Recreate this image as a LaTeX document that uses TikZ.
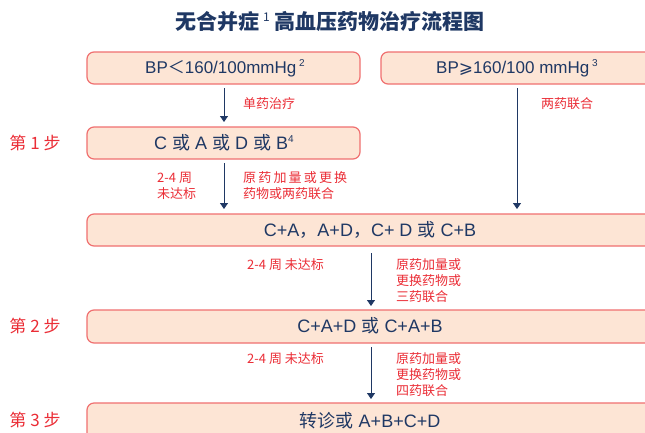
\documentclass[tikz,border=0pt]{standalone}
\usepackage{fontspec}
\setmainfont{Liberation Sans}
\newfontfamily\cjk{Noto Sans CJK SC}
\newfontfamily\djv{DejaVu Sans}
\usetikzlibrary{arrows.meta}
\definecolor{navy}{HTML}{1F3864}
\definecolor{boxfill}{HTML}{FDE5D5}
\definecolor{boxline}{HTML}{F07070}
\definecolor{lblred}{HTML}{EB2D36}
\newcommand{\supn}[1]{\raisebox{0.75ex}{\fontsize{10}{10}\selectfont #1}}
\tikzset{
  box/.style={draw=boxline, line width=1.2pt, fill=boxfill, rounded corners=7pt},
  boxtext/.style={text=navy, font=\fontsize{18}{20}\selectfont, inner sep=0pt},
  lbl/.style={text=lblred, font=\cjk\fontsize{13}{16}\selectfont, inner sep=0pt, align=left},
  steplbl/.style={text=lblred, font=\cjk\fontsize{17}{18}\selectfont, inner sep=0pt},
  arr/.style={draw=navy, line width=0.9pt, -{Triangle[length=6pt,width=8pt]}},
}
\begin{document}
\begin{tikzpicture}[x=1pt,y=-1pt]
\path[use as bounding box, clip] (0,0) rectangle (645,432);
\fill[white] (0,0) rectangle (645,432);
% title
\node[text=navy, font=\cjk\bfseries\fontsize{21}{24}\selectfont, inner sep=0pt] (title) at (330,22) {无合并症\hspace{4pt}{\fontsize{12}{12}\selectfont\raisebox{1.3ex}{\mdseries 1}}\hspace{5pt}高血压药物治疗流程图};
% boxes
\draw[box] (87,52) rectangle (360,84);
\node[boxtext, font=\fontsize{17}{20}\selectfont] (b1) at (225,68) {BP{\cjk ＜}160/100mmHg\,\supn{2}};
\coordinate (b1s) at (224,88);
\draw[box] (381,52) rectangle (680,84);
\node[boxtext, font=\fontsize{17}{20}\selectfont] (b2) at (517,68) {BP{\djv ⩾}160/100 mmHg\,\supn{3}};
\coordinate (b2s) at (517,88);

\draw[box] (87,127) rectangle (360,159);
\node[boxtext] (s1) at (224,143) {C {\cjk 或} A {\cjk 或} D {\cjk 或} B\supn{4}};
\coordinate (s1n) at (224,122);
\coordinate (s1s) at (224,163);

\draw[box] (87,214) rectangle (680,246);
\node[boxtext] (s2) at (370,230) {C+A{\cjk ，}A+D{\cjk ，}C+ D {\cjk 或} C+B};
\coordinate (s2na) at (224,209);
\coordinate (s2nb) at (517,209);
\coordinate (s2s) at (371,253);

\draw[box] (87,310) rectangle (680,343);
\node[boxtext] (s3) at (370,326) {C+A+D {\cjk 或} C+A+B};
\coordinate (s3n) at (371,306);
\coordinate (s3s) at (371,347);

\draw[box] (87,403) rectangle (680,445);
\node[boxtext] (s4) at (370,421) {{\cjk 转诊或} A+B+C+D};
\coordinate (s4n) at (371,399);

% step labels
\node[steplbl] (st1) at (35,143) {第 1 步};
\node[steplbl] (st2) at (35,326) {第 2 步};
\node[steplbl] (st3) at (35,420) {第 3 步};

% arrows
\draw[arr] (b1s) -- (s1n);
\draw[arr] (b2s) -- (s2nb);
\draw[arr] (s1s) -- (s2na);
\draw[arr] (s2s) -- (s3n);
\draw[arr] (s3s) -- (s4n);

% labels
\node[lbl, anchor=west] (l1) at (243,104) {单药治疗};
\node[lbl, anchor=west] (l2) at (541,104) {两药联合};
\node[lbl, anchor=west] (l3) at (157,186) {2-4 周\\未达标};
\node[lbl, anchor=west] (l4) at (243,186) {原\,药\,加\,量\,或\,更\,换\\药物或两药联合};
\node[lbl, anchor=west] (l5) at (247,265) {2-4 周 未达标};
\node[lbl, anchor=west] (l6) at (396,281) {原药加量或\\更换药物或\\三药联合};
\node[lbl, anchor=west] (l7) at (247,359) {2-4 周 未达标};
\node[lbl, anchor=west] (l8) at (396,375) {原药加量或\\更换药物或\\四药联合};
\end{tikzpicture}
\end{document}
